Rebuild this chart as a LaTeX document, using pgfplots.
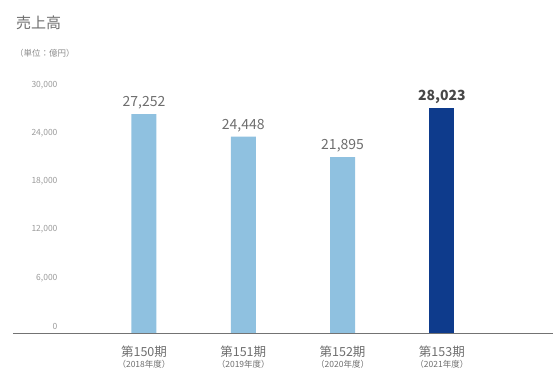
\documentclass[border=0pt]{standalone}
\usepackage{fontspec}
\setmainfont{Noto Sans CJK JP}
\usepackage{pgfplots}
\pgfplotsset{compat=1.18}
\definecolor{lightbar}{HTML}{8FC1E0}
\definecolor{darkbar}{HTML}{0E3B8C}
\definecolor{txt}{HTML}{6E6E6E}
\begin{document}
\begin{tikzpicture}[x=1pt,y=1pt]
\node[anchor=west, text=txt, inner sep=0] at (16,354) {\fontsize{15}{17}\selectfont 売上高};
\node[anchor=west, text=txt!80, inner sep=0] at (15,324) {\fontsize{8.5}{10}\selectfont （単位：億円）};
\begin{axis}[
  at={(13pt,44pt)}, anchor=south west,
  scale only axis, width=540pt, height=241pt,
  xmin=-1.319, xmax=4.119, ymin=0, ymax=30000,
  axis x line*=bottom, axis y line*=left,
  y axis line style={draw=none},
  x axis line style={draw=black!55, line width=0.8pt},
  major tick length=0pt,
  ytick={0,6000,12000,18000,24000,30000},
  yticklabel style={anchor=east, xshift=48pt, yshift=7pt, text=txt!70, font=\fontsize{8.5}{10}\selectfont, /pgf/number format/assume math mode=true},
  /pgf/number format/.cd, 1000 sep={,}, /pgfplots/.cd,
  scaled y ticks=false,
  xtick={0,1,2,3},
  xticklabels={{第150期\\[-3pt]{\fontsize{8.5}{10}\selectfont （2018年度）}},{第151期\\[-3pt]{\fontsize{8.5}{10}\selectfont （2019年度）}},{第152期\\[-3pt]{\fontsize{8.5}{10}\selectfont （2020年度）}},{第153期\\[-3pt]{\fontsize{8.5}{10}\selectfont （2021年度）}}},
  xticklabel style={align=center, text=txt, font=\fontsize{12.5}{14}\selectfont, yshift=-9pt},
  ybar, bar width=25pt, bar shift=0pt,
  nodes near coords,
  nodes near coords style={/pgf/number format/assume math mode=true, /pgf/number format/1000 sep={,}, font=\fontsize{14}{16}\selectfont, text=txt, yshift=1pt},
  clip=false,
]
\addplot[fill=lightbar, draw=none] coordinates {(0,27252) (1,24448) (2,21895)};
\addplot[fill=darkbar, draw=none, nodes near coords style={text=black!72, font=\fontsize{14}{16}\selectfont\bfseries}] coordinates {(3,28023)};
\end{axis}
\pgfresetboundingbox
\path[use as bounding box] (0,0) rectangle (558,377);
\end{tikzpicture}
\end{document}
